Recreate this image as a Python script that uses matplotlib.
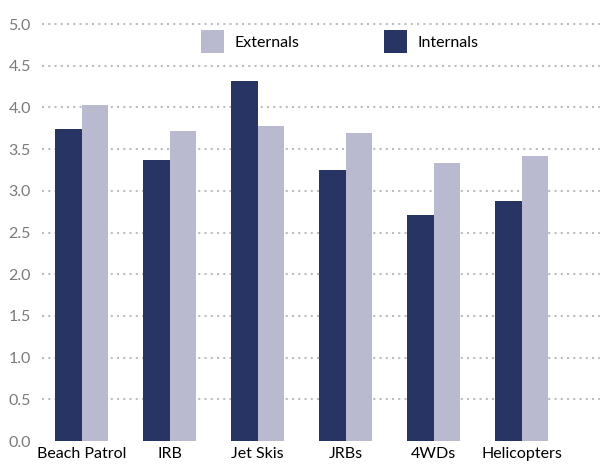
import numpy as np
import matplotlib.pyplot as plt

categories = ["Beach Patrol", "IRB", "Jet Skis", "JRBs", "4WDs", "Helicopters"]
internals = [3.74, 3.37, 4.32, 3.25, 2.71, 2.88]
externals = [4.03, 3.72, 3.78, 3.69, 3.33, 3.42]
yticks = [0.0, 0.5, 1.0, 1.5, 2.0, 2.5, 3.0, 3.5, 4.0, 4.5, 5.0]

c_int = "#283463"
c_ext = "#b9b9d0"

plt.rcParams['font.family'] = ['Lato', 'DejaVu Sans']

fig = plt.figure(figsize=(6, 4.66), dpi=100)
ax = fig.add_axes([0.07, 0.0536, 0.93, 0.9126])

x = np.arange(len(categories))
w = 0.3
# gridlines (dotted), skip the zero line
for t in yticks[1:]:
    ax.axhline(t, color="#bdbdbd", lw=1.5, linestyle=(0, (1, 2)), zorder=0)

ax.bar(x - w / 2, internals, w, color=c_int, label="Internals", zorder=2)
ax.bar(x + w / 2, externals, w, color=c_ext, label="Externals", zorder=2)

ax.set_xlim(-0.45, 5.89)
ax.set_ylim(0, 5.1)
ax.set_yticks(yticks)
ax.set_yticklabels(["%.1f" % t for t in yticks], color="#7a7a7a", fontsize=11.5)
ax.set_xticks(x)
ax.set_xticklabels(categories, fontsize=11.5, color="black")
ax.tick_params(axis="both", length=0)
ax.tick_params(axis="x", pad=4)
ax.tick_params(axis="y", pad=8)
for s in ax.spines.values():
    s.set_visible(False)

h, l = ax.get_legend_handles_labels()
ax.legend(h[::-1], l[::-1], ncol=2, frameon=False, loc="upper center",
          bbox_to_anchor=(0.534, 1.0), fontsize=11.5, handlelength=1.45,
          handleheight=1.8, columnspacing=5.3, handletextpad=0.65)

fig.savefig("out.png", dpi=100)
